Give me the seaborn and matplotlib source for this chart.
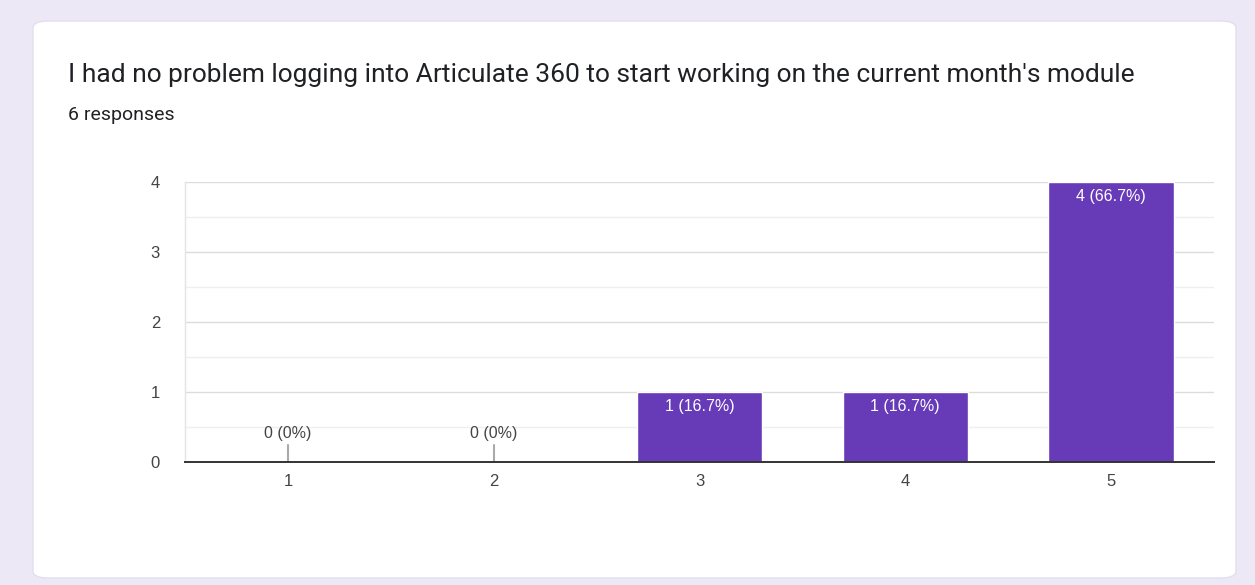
import matplotlib.pyplot as plt
import seaborn as sns
import pandas as pd
from matplotlib.patches import FancyBboxPatch

# data
categories = ['1', '2', '3', '4', '5']
counts = [0, 0, 1, 1, 4]
labels = ['0 (0%)', '0 (0%)', '1 (16.7%)', '1 (16.7%)', '4 (66.7%)']
title = "I had no problem logging into Articulate 360 to start working on the current month's module"
subtitle = '6 responses'

df = pd.DataFrame({'rating': categories, 'count': counts})

sns.set_style('white')
plt.rcParams['font.family'] = ['Liberation Sans', 'DejaVu Sans']

W, H = 1255, 585
fig = plt.figure(figsize=(W / 100, H / 100), dpi=100)
fig.patch.set_facecolor('#ece8f6')

# white card
card = FancyBboxPatch((33 / W, 1 - 578 / H), (1236 - 33) / W, (578 - 21) / H,
                      boxstyle='round,pad=0,rounding_size=0.012',
                      transform=fig.transFigure, facecolor='white',
                      edgecolor='#e2def0', linewidth=1, zorder=-5)
fig.patches.append(card)

fig.text(68 / W, 1 - 75 / H, title, fontsize=19, color='#202124',
         family=['Roboto', 'DejaVu Sans'], va='center', ha='left')
fig.text(68 / W, 1 - 115 / H, subtitle, fontsize=14, color='#202124',
         family=['Roboto', 'DejaVu Sans'], va='center', ha='left')

ax = fig.add_axes([185 / W, 1 - 462 / H, (1214 - 185) / W, (462 - 182) / H])
ax.set_facecolor('none')
ax.set_zorder(2)

sns.barplot(data=df, x='rating', y='count', color='#673ab7', saturation=1,
            width=0.61, ax=ax, zorder=3)

ax.set_ylim(0, 4)
ax.set_xlim(-0.5, 4.5)
ax.set_yticks([0, 1, 2, 3, 4])
ax.set_yticks([0.5, 1.5, 2.5, 3.5], minor=True)
ax.grid(axis='y', which='major', color='#dcdcdc', linewidth=1, zorder=0)
ax.grid(axis='y', which='minor', color='#efefef', linewidth=1, zorder=0)
ax.set_axisbelow(True)

for s in ['top', 'right']:
    ax.spines[s].set_visible(False)
ax.spines['left'].set_color('#e4e4e4')
ax.spines['left'].set_linewidth(1)
ax.spines['bottom'].set_color('#333333')
ax.spines['bottom'].set_linewidth(1.4)
ax.spines['bottom'].set_zorder(5)

ax.tick_params(axis='both', which='both', length=0, labelsize=12, labelcolor='#444444')
ax.tick_params(axis='y', pad=18)
ax.tick_params(axis='x', pad=9)
ax.set_xlabel('')
ax.set_ylabel('')

for i, (c, lab) in enumerate(zip(counts, labels)):
    if c == 0:
        ax.plot([i, i], [0, 0.24], color='#aaaaaa', linewidth=1.5, zorder=4)
        ax.text(i, 0.41, lab, ha='center', va='center', fontsize=11.5, color='#444444')
    else:
        ax.text(i, c - 0.2, lab, ha='center', va='center', fontsize=11.5, color='white')

fig.savefig('out.png', dpi=100, facecolor=fig.get_facecolor())
